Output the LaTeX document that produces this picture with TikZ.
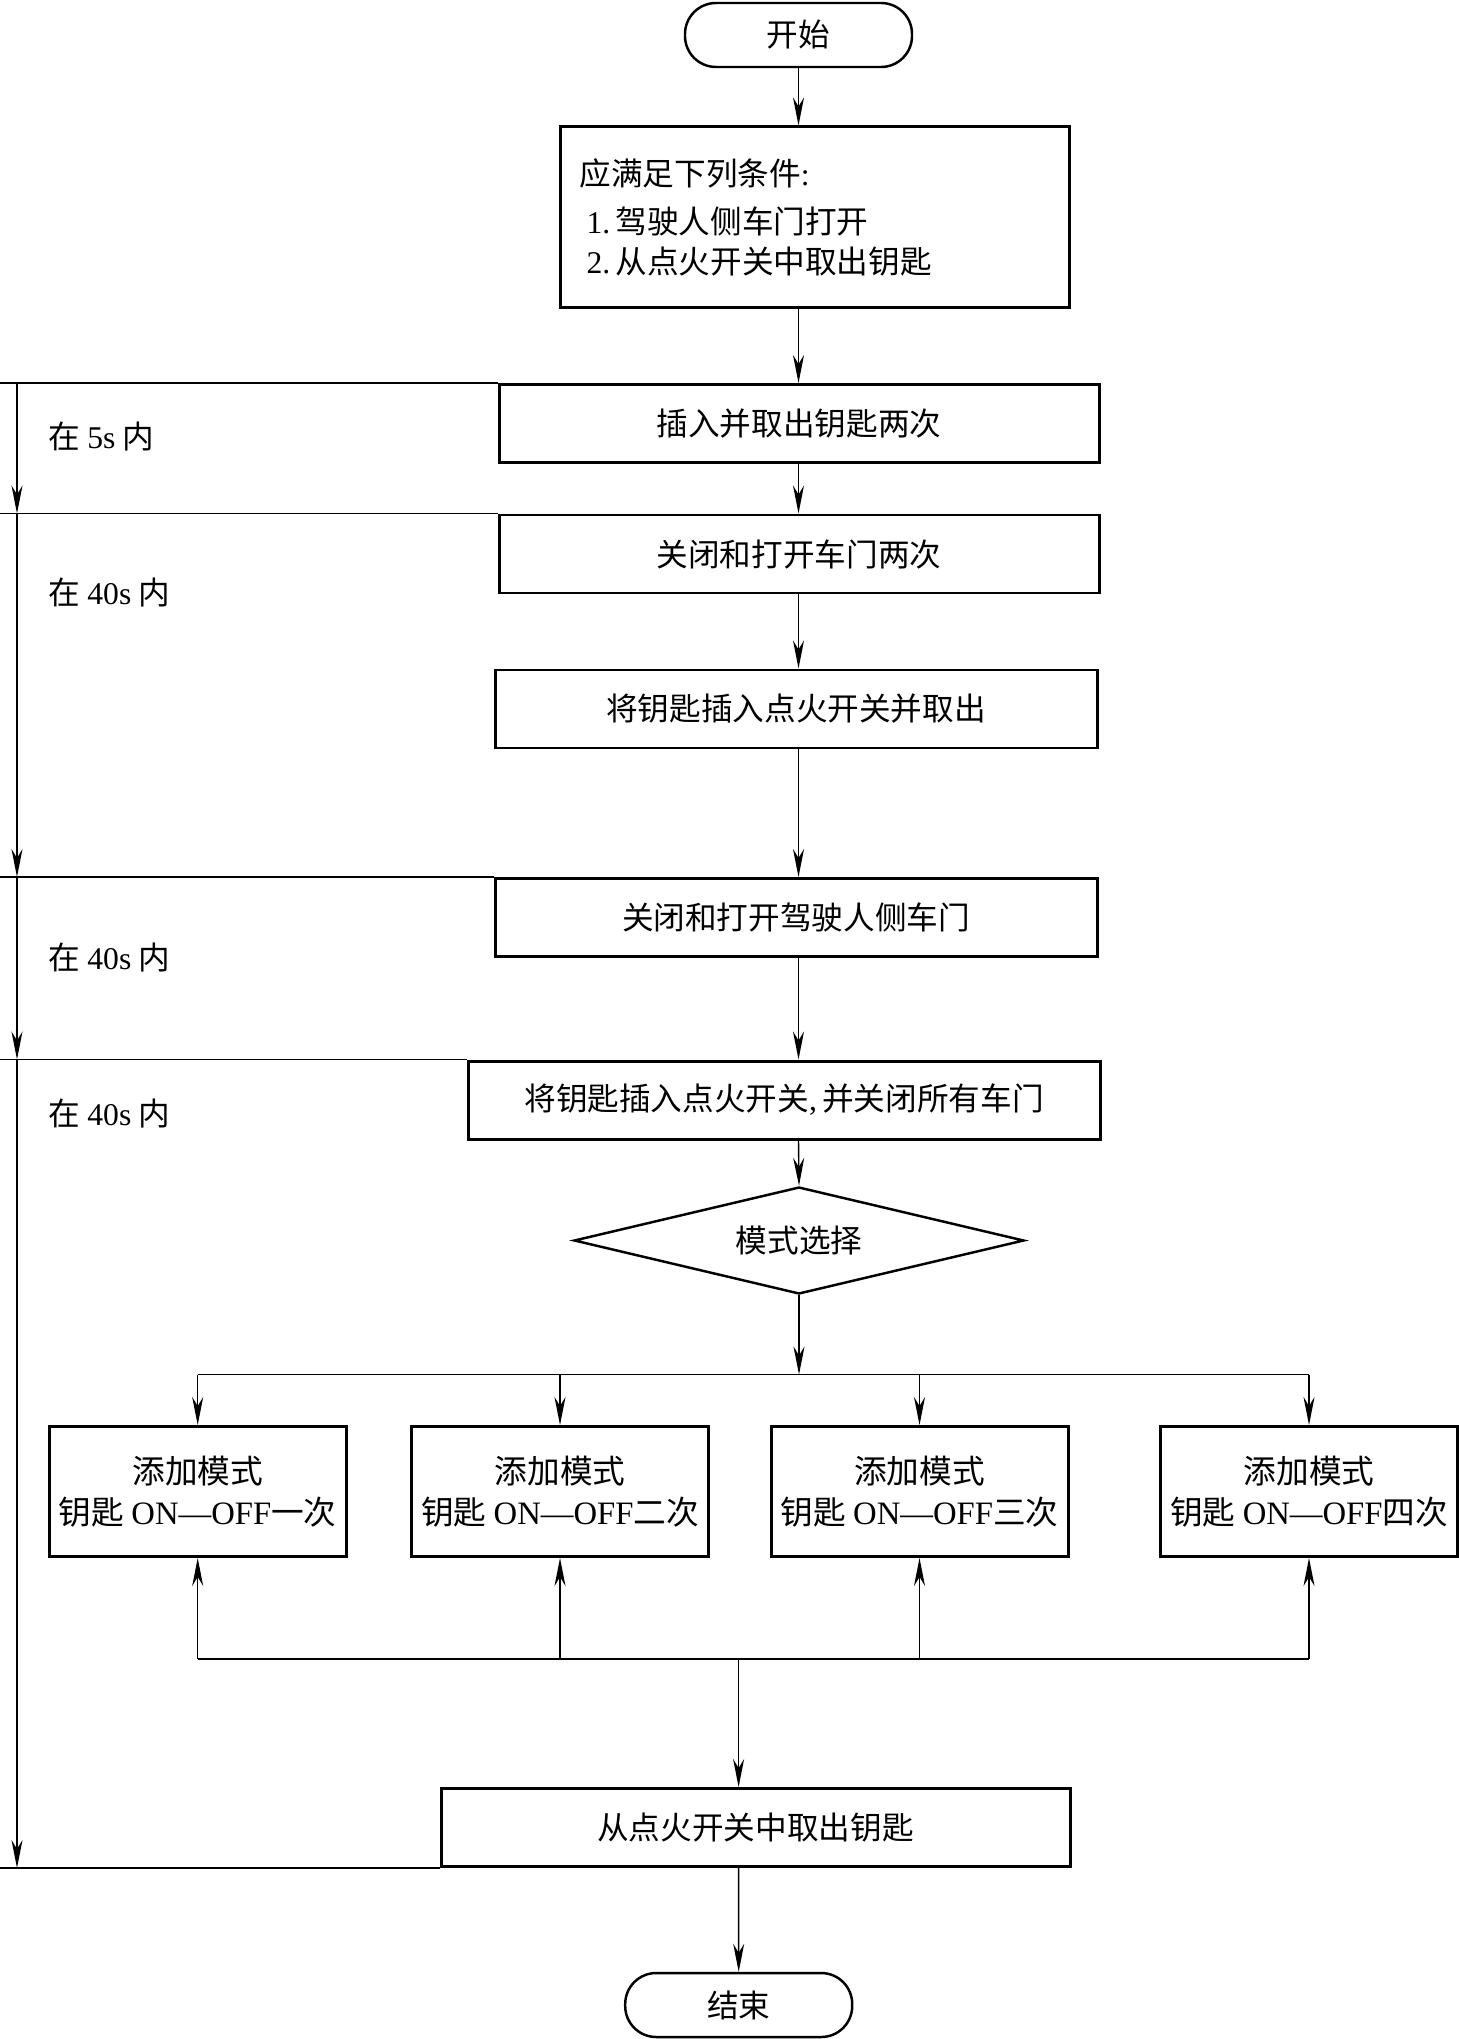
\documentclass[tikz,border=0pt]{standalone}
\usepackage{fontspec}
\setmainfont{Noto Sans CJK SC}
\newfontfamily\tnr{Liberation Serif}
\usetikzlibrary{shapes.geometric}
\usetikzlibrary{arrows.meta}
\newcommand{\lat}[1]{{\tnr #1}}

\begin{document}
\begin{tikzpicture}[
	font=\fontsize{9}{11.5}\selectfont,
	term/.style = {rectangle, rounded corners=3.1mm, draw, line width=0.7pt, minimum width=2.27cm, minimum height=0.64cm, inner sep=0},
	proc/.style = {rectangle, draw, line width=0.85pt, minimum height=0.78cm, inner sep=0},
	mode/.style = {rectangle, draw, line width=0.85pt, minimum width=2.97cm, minimum height=1.30cm, inner sep=0, align=center, font=\fontsize{9.3}{11.5}\selectfont},
	dec/.style = {diamond, draw, line width=0.7pt, minimum width=4.5cm, minimum height=1.07cm, inner sep=0, aspect=4.2},
	lab/.style = {anchor=west, inner sep=0},
	ln/.style = {line width=0.4pt},
	arr/.style = {-{Stealth[length=2.8mm, width=1.1mm, inset=0.9mm]}, line width=0.4pt}
	]
	\useasboundingbox (0,0) rectangle (14.59,-20.39);
	
	% === === Nodes === ===
	\node[term]	(s0)	at	(7.985, -0.35)	{开始};
	\node[proc, minimum width=5.09cm, minimum height=1.81cm, text width=4.7cm, align=left]	(c0)	at	(8.145, -2.175)
		{应满足下列条件\lat{:}\\[2pt]\hspace*{0.7mm}\lat{1.}\,驾驶人侧车门打开\\\hspace*{0.7mm}\lat{2.}\,从点火开关中取出钥匙};
	
	\node[proc, minimum width=6.00cm]	(p1)	at	(7.99, -4.235)	{插入并取出钥匙两次};
	\node[proc, minimum width=6.00cm]	(p2)	at	(7.99, -5.54)	{关闭和打开车门两次};
	\node[proc, minimum width=6.02cm]	(p3)	at	(7.96, -7.09)	{将钥匙插入点火开关并取出};
	\node[proc, minimum width=6.02cm]	(p4)	at	(7.96, -9.175)	{关闭和打开驾驶人侧车门};
	\node[proc, minimum width=6.32cm]	(p5)	at	(7.84, -11.0)	{将钥匙插入点火开关\lat{,}\,并关闭所有车门};
	\node[dec]	(sel)	at	(7.99, -12.405)	{模式选择};
	
	\node[mode]	(m1)	at	(1.977, -14.915)	{添加模式\\钥匙 \lat{ON—OFF}一次};
	\node[mode]	(m2)	at	(5.60, -14.915)	{添加模式\\钥匙 \lat{ON—OFF}二次};
	\node[mode]	(m3)	at	(9.195, -14.915)	{添加模式\\钥匙 \lat{ON—OFF}三次};
	\node[mode]	(m4)	at	(13.09, -14.915)	{添加模式\\钥匙 \lat{ON—OFF}四次};
	
	\node[proc, minimum width=6.29cm]	(p6)	at	(7.555, -18.275)	{从点火开关中取出钥匙};
	\node[term]	(e0)	at	(7.387, -20.05)	{结束};
	
	\node[lab]	(t1)	at	(0.48, -4.37)	{在 \lat{5s} 内};
	\node[lab]	(t2)	at	(0.48, -5.93)	{在 \lat{40s} 内};
	\node[lab]	(t3)	at	(0.48, -9.58)	{在 \lat{40s} 内};
	\node[lab]	(t4)	at	(0.48, -11.14)	{在 \lat{40s} 内};
	
	\coordinate	(edge)	at	(0, 0);
	\coordinate	(rail)	at	(0.17, 0);
	\coordinate	(split)	at	(7.99, -13.745);
	\coordinate	(join)	at	(7.386, -16.59);
	
	% === === Lines === ===
	\draw[arr]	(s0.south)	--	(s0 |- c0.north);
	\draw[arr]	(s0 |- c0.south)	--	(s0 |- p1.north);
	\draw[arr]	(s0 |- p1.south)	--	(s0 |- p2.north);
	\draw[arr]	(s0 |- p2.south)	--	(s0 |- p3.north);
	\draw[arr]	(s0 |- p3.south)	--	(s0 |- p4.north);
	\draw[arr]	(s0 |- p4.south)	--	(s0 |- p5.north);
	\draw[arr]	(s0 |- p5.south)	--	(sel.north);
	
	\draw[arr]	(sel.south)	--	(split);
	\draw[ln]	(m1.north |- split)	--	(m4.north |- split);
	\foreach \m in {m1, m2, m3, m4}
		\draw[arr]	(\m.north |- split)	--	(\m.north);
	\draw[ln]	(m1.south |- join)	--	(m4.south |- join);
	\foreach \m in {m1, m2, m3, m4}
		\draw[arr]	(\m.south |- join)	--	(\m.south);
	\draw[arr]	(join)	--	(join |- p6.north);
	\draw[arr]	(join |- p6.south)	--	(e0.north);
	
	\draw[ln]	(edge |- p1.north)	--	(p1.north west);
	\draw[arr]	(rail |- p1.north)	--	(rail |- p2.north);
	\draw[ln]	(edge |- p2.north)	--	(p2.north west);
	\draw[arr]	(rail |- p2.north)	--	(rail |- p4.north);
	\draw[ln]	(edge |- p4.north)	--	(p4.north west);
	\draw[arr]	(rail |- p4.north)	--	(rail |- p5.north);
	\draw[ln]	(edge |- p5.north)	--	(p5.north west);
	\draw[arr]	(rail |- p5.north)	--	(rail |- p6.south);
	\draw[ln]	(edge |- p6.south)	--	(p6.south west);
	
\end{tikzpicture}
\end{document}
